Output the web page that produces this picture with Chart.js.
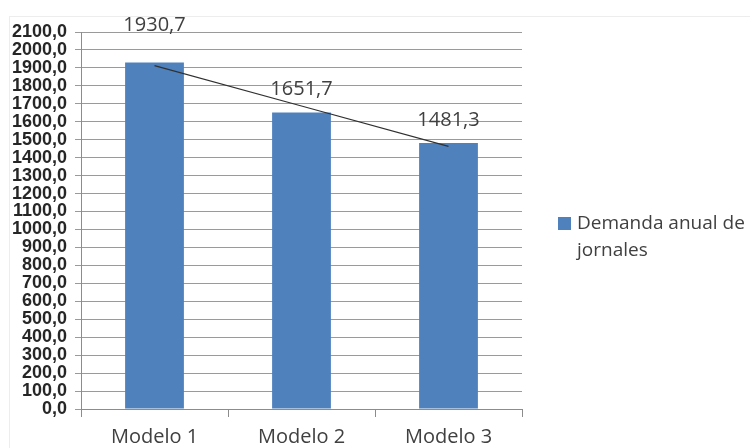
<!DOCTYPE html>
<html>
<head>
<meta charset="utf-8">
<script src="https://cdn.jsdelivr.net/npm/chart.js@4"></script>
<style>
    html, body { margin: 0; padding: 0; background: #fff; }
    #wrap { position: relative; width: 750px; height: 448px; }
    #frame { position: absolute; left: 9px; top: 16px; width: 745px; height: 440px; border: 1px solid #ededed; }
    canvas { position: absolute; left: 0; top: 0; }
</style>
</head>
<body>
<div id="wrap">
    <div id="frame"></div>
    <canvas id="chart" width="750" height="448"></canvas>
</div>
<script>
let categories = ["Modelo 1", "Modelo 2", "Modelo 3"];
let demandValues = [1930.7, 1651.7, 1481.3];
let trendValues = [1912.6, 1687.9, 1463.2];
let seriesLabel = ["Demanda anual de", "jornales"];

function formatComma(value, digits) {
    return value.toFixed(digits).replace(".", ",");
}

let valueLabels = {
    id: "valueLabels",
    afterDatasetsDraw(chart) {
        let ctx = chart.ctx;
        let meta = chart.getDatasetMeta(1);
        let offsets = [37, 23, 23];
        ctx.save();
        ctx.font = "20px 'Open Sans'";
        ctx.fillStyle = "#404040";
        ctx.textAlign = "center";
        ctx.textBaseline = "middle";
        meta.data.forEach(function (bar, i) {
            ctx.fillText(formatComma(demandValues[i], 1), bar.x, bar.y - offsets[i]);
        });
        ctx.restore();
    }
};

let sideLegend = {
    id: "sideLegend",
    afterDraw(chart) {
        let ctx = chart.ctx;
        ctx.save();
        ctx.fillStyle = "#4F81BD";
        ctx.fillRect(558, 217, 13, 13);
        ctx.font = "19px 'Open Sans'";
        ctx.fillStyle = "#404040";
        ctx.textBaseline = "middle";
        ctx.fillText(seriesLabel[0], 577, 224);
        ctx.fillText(seriesLabel[1], 577, 251);
        ctx.restore();
    }
};

let ctx = document.getElementById("chart").getContext("2d");

let chart = new Chart(ctx, {
    data: {
        labels: categories,
        datasets: [
            {
                type: "line",
                label: "Tendencia",
                data: trendValues,
                borderColor: "#303030",
                borderWidth: 1.2,
                pointRadius: 0,
                fill: false,
                order: 0
            },
            {
                type: "bar",
                label: seriesLabel.join(" "),
                data: demandValues,
                backgroundColor: "#4F81BD",
                barPercentage: 0.4,
                categoryPercentage: 1.0,
                order: 1
            }
        ]
    },
    options: {
        responsive: false,
        animation: false,
        layout: {
            padding: { left: 0, top: 32, right: 228, bottom: 0 }
        },
        plugins: {
            legend: { display: false },
            tooltip: { enabled: false }
        },
        scales: {
            x: {
                offset: true,
                grid: {
                    offset: true,
                    drawOnChartArea: false,
                    drawTicks: true,
                    tickLength: 8,
                    color: "#8c8c8c"
                },
                border: { color: "#8c8c8c" },
                ticks: {
                    font: { family: "'Open Sans'", size: 20 },
                    color: "#404040",
                    padding: 8,
                    maxRotation: 0
                },
                afterFit(scale) {
                    scale.height = 39;
                }
            },
            y: {
                min: 0,
                max: 2100,
                ticks: {
                    stepSize: 100,
                    font: { family: "'Liberation Sans'", size: 18, weight: "bold" },
                    color: "#262626",
                    padding: 8,
                    autoSkip: false,
                    callback: function (value) {
                        return formatComma(value, 1);
                    }
                },
                grid: {
                    color: "#9a9a9a",
                    lineWidth: 1,
                    tickLength: 6
                },
                border: { color: "#8c8c8c" },
                afterFit(scale) {
                    scale.width = 81;
                }
            }
        }
    },
    plugins: [valueLabels, sideLegend]
});
</script>
</body>
</html>
